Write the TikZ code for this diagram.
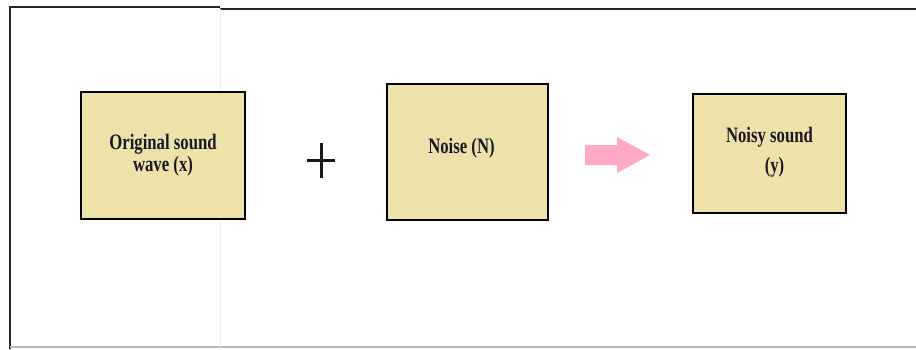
\documentclass[tikz,border=0pt]{standalone}
\usepackage{fontspec}
\setmainfont{Liberation Serif}[FakeStretch=0.76]
\definecolor{boxfill}{RGB}{237,226,170}
\definecolor{pinkarrow}{RGB}{255,168,200}
\definecolor{framegray}{RGB}{185,185,185}
\definecolor{txt}{RGB}{25,25,35}
\tikzset{
  soundbox/.style={draw=black, line width=2.8pt, fill=boxfill, rectangle, inner sep=0pt,
    align=center, text=txt, font=\fontsize{22}{22}\selectfont\bfseries},
  frameline/.style={line width=2pt, draw=black!85}
}
\begin{document}
\begin{tikzpicture}[x=1pt,y=-1pt]
\useasboundingbox (0,0) rectangle (916,349);
\fill[white] (0,0) rectangle (916,349);
% outer frame
\coordinate (tl) at (10,7);
\coordinate (tm) at (220,7);
\coordinate (tm2) at (220,9);
\coordinate (tr) at (916,9);
\coordinate (bl) at (10,349);
\coordinate (bbl) at (10,347);
\coordinate (bbr) at (916,347);
\draw[frameline] (bl) -- (tl) -- (tm);
\draw[frameline] (tm2) -- (tr);
\draw[line width=1.5pt, draw=framegray] (bbl) -- (bbr);
\draw[line width=0.6pt, draw=black!6] (220,9) -- (220,347);
% boxes
\node[soundbox, minimum width=164pt, minimum height=127pt] (x) at (163,155.5) {Original sound\\wave (x)};
\node[soundbox, minimum width=161pt, minimum height=136pt] (n) at (467.5,152) {};
\node[font=\fontsize{22}{22}\selectfont\bfseries, text=txt, inner sep=0pt] (nt) at ([xshift=-6pt,yshift=4pt]n.center) {Noise (N)};
\node[soundbox, minimum width=153pt, minimum height=119pt] (y) at (769.5,153.5) {};
\node[font=\fontsize{22}{30}\selectfont\bfseries, text=txt, inner sep=0pt, align=center] (yt) at ([yshift=1pt]y.center) {Noisy sound\\\hspace*{10pt}(y)};
% plus sign
\coordinate (pc) at (321,160);
\draw[line width=3pt, black!90] ([xshift=-14pt]pc) -- ([xshift=14pt]pc);
\draw[line width=3pt, black!90] ([yshift=-18pt]pc) -- ([yshift=17pt]pc);
% pink arrow
\fill[pinkarrow] (585,145) -- (617,145) -- (617,137) -- (650,155) -- (617,173) -- (617,165) -- (585,165) -- cycle;
\end{tikzpicture}
\end{document}
